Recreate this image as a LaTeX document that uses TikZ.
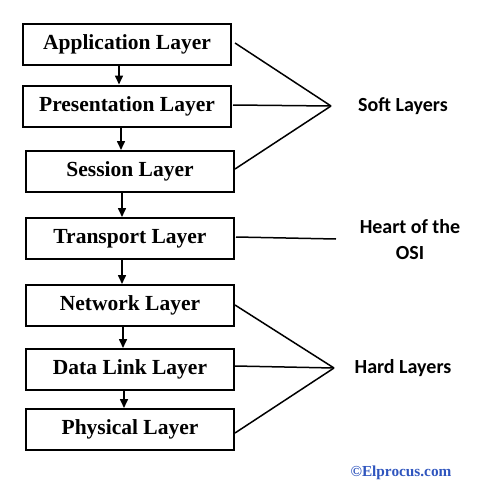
\documentclass[tikz,border=0pt]{standalone}
\usepackage{fontspec}
\setmainfont{Liberation Serif}
\newfontfamily\labelfont{Carlito}
\usepackage{tikz}
\usetikzlibrary{arrows.meta,calc}
\definecolor{siteblue}{RGB}{47,85,190}

\begin{document}
\begin{tikzpicture}[x=1pt,y=-1pt,
    layerbox/.style={draw,line width=2pt,minimum width=208pt,minimum height=41pt,
      inner sep=0pt,font=\fontsize{21.5}{25}\selectfont\bfseries},
    downarrow/.style={line width=1.6pt,-{Triangle[length=9pt,width=8pt]}},
    grouplink/.style={line width=1.5pt},
    grouplabel/.style={font=\labelfont\fontsize{20}{26}\selectfont\bfseries,align=center}]
    \useasboundingbox (0,0) rectangle (478,487);

    % Layer stack (left)
    \node[layerbox] (app)  at (127,44.5)  {Application Layer};
    \node[layerbox] (pres) at (127,106)   {Presentation Layer};
    \node[layerbox] (sess) at (130,171.5) {Session Layer};
    \node[layerbox] (trans) at (130,238.5) {Transport Layer};
    \node[layerbox] (net)  at (130,305.5) {Network Layer};
    \node[layerbox] (link) at (130,369.5) {Data Link Layer};
    \node[layerbox] (phys) at (130,429.5) {Physical Layer};

    % Arrows between layers
    \draw[downarrow] ([xshift=-8pt]app.south)  -- ([xshift=-8pt]app.south |- pres.north);
    \draw[downarrow] ([xshift=-6pt]pres.south) -- ([xshift=-6pt]pres.south |- sess.north);
    \draw[downarrow] ([xshift=-8pt]sess.south) -- ([xshift=-8pt]sess.south |- trans.north);
    \draw[downarrow] ([xshift=-8pt]trans.south) -- ([xshift=-8pt]trans.south |- net.north);
    \draw[downarrow] ([xshift=-7pt]net.south)  -- ([xshift=-7pt]net.south |- link.north);
    \draw[downarrow] ([xshift=-6pt]link.south) -- ([xshift=-6pt]link.south |- phys.north);

    % Soft layers
    \coordinate (softpt) at (331,106);
    \draw[grouplink] ([xshift=3pt,yshift=1.5pt]app.east) -- (softpt);
    \draw[grouplink] ([xshift=1pt,yshift=1pt]pres.east) -- (softpt);
    \draw[grouplink] ([yshift=2.5pt]sess.east) -- (softpt);
    \node[grouplabel] (soft) at (403,106) {Soft Layers};

    % Heart of the OSI
    \coordinate (heartpt) at (336,239);
    \draw[grouplink] ([xshift=1pt,yshift=1.5pt]trans.east) -- (heartpt);
    \node[grouplabel] (heart) at (410,240) {Heart of the\\OSI};

    % Hard layers
    \coordinate (hardpt) at (334,368);
    \draw[grouplink] ([yshift=0.5pt]net.east) -- (hardpt);
    \draw[grouplink] ([yshift=3.5pt]link.east) -- (hardpt);
    \draw[grouplink] ([yshift=-3.5pt]phys.east) -- (hardpt);
    \node[grouplabel] (hard) at (403,368) {Hard Layers};

    % Credit
    \node[text=siteblue,font=\fontsize{15.3}{18}\selectfont\bfseries] (credit) at (401,473) {©Elprocus.com};
\end{tikzpicture}
\end{document}
